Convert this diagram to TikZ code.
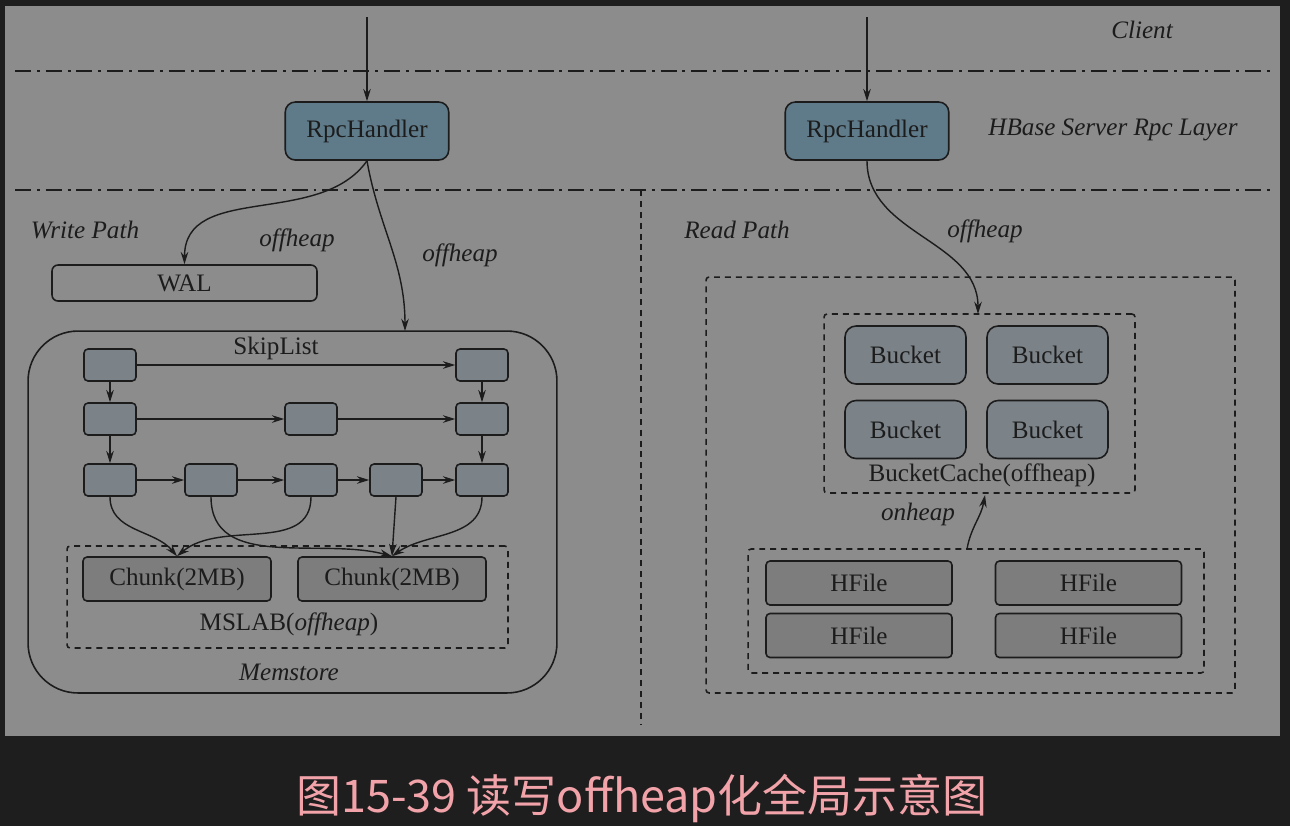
\documentclass[tikz,border=0pt]{standalone}
\usepackage{fontspec}
\setmainfont{Liberation Serif}
\newfontfamily\cjk{Noto Sans CJK SC}
\usepackage{tikz}
\usetikzlibrary{arrows.meta}
\definecolor{bgdark}{HTML}{1E1E1E}
\definecolor{panel}{HTML}{8C8C8C}
\definecolor{rpcblue}{HTML}{5F7B8A}
\definecolor{nodegray}{HTML}{7B8389}
\definecolor{filegray}{HTML}{7D7D7D}
\definecolor{edge}{HTML}{1C1C1C}
\definecolor{captionpink}{HTML}{F2A3AA}

\begin{document}
\begin{tikzpicture}[x=0.02cm,y=-0.02cm,
    every node/.style={font=\fontsize{14.3}{17}\selectfont, text=edge},
    lbl/.style={font=\fontsize{14.3}{17}\selectfont\itshape},
    box/.style={draw=edge, line width=0.9pt, inner sep=0pt},
    rpcbox/.style={box, fill=rpcblue, rounded corners=0.2cm, minimum width=3.27cm, minimum height=1.16cm},
    listnode/.style={box, fill=nodegray, rounded corners=0.08cm, minimum width=1.04cm, minimum height=0.64cm},
    chunkbox/.style={box, fill=filegray, rounded corners=0.08cm, minimum width=3.76cm, minimum height=0.88cm},
    bucketbox/.style={box, fill=nodegray, rounded corners=0.22cm, minimum width=2.42cm, minimum height=1.16cm},
    filebox/.style={box, fill=filegray, rounded corners=0.08cm, minimum width=3.72cm, minimum height=0.88cm},
    group/.style={box, rounded corners=0.06cm, dash pattern=on 3.4pt off 2.8pt},
    layer/.style={draw=edge, line width=0.9pt, dash pattern=on 9pt off 3.4pt on 1.7pt off 3.4pt},
    arr/.style={draw=edge, line width=0.8pt, -{Stealth[length=7pt,width=4.3pt]}}]
  \fill[bgdark] (0,0) rectangle (1290,826);
  \fill[panel] (5,6) rectangle (1280,736);
  \useasboundingbox (0,0) rectangle (1290,826);

  \draw[layer] (15,71) -- (1272,71);
  \draw[layer] (15,190) -- (1272,190);
  \draw[edge, line width=0.9pt, dash pattern=on 3.4pt off 2.8pt] (641,190) -- (641,725);

  \node[lbl] (client) at (1142,30) {Client};
  \node[lbl] (layername) at (1113,130) {HBase Server Rpc Layer};
  \node[rpcbox] (rpcw) at (367,131) {RpcHandler};
  \node[rpcbox] (rpcr) at (867,131) {RpcHandler};
  \coordinate (inw) at (367,17);
  \coordinate (inr) at (867,17);
  \draw[arr] (inw) -- (rpcw.north);
  \draw[arr] (inr) -- (rpcr.north);

  \node[lbl] (wpath) at (85,230) {Write Path};
  \node[box, fill=panel, rounded corners=0.12cm, minimum width=5.3cm, minimum height=0.72cm] (wal) at (184.5,283) {WAL};
  \node[box, rounded corners=1cm, minimum width=10.58cm, minimum height=7.24cm] (memstore) at (292.5,512) {};
  \node[lbl] (memname) at (289,672) {Memstore};
  \node (skiplist) at (276,348) {SkipList};
  \node[listnode] (s11) at (110,365) {};
  \node[listnode] (s15) at (482,365) {};
  \node[listnode] (s21) at (110,419) {};
  \node[listnode] (s23) at (311,419) {};
  \node[listnode] (s25) at (482,419) {};
  \node[listnode] (s31) at (110,480) {};
  \node[listnode] (s32) at (211,480) {};
  \node[listnode] (s33) at (311,480) {};
  \node[listnode] (s34) at (396,480) {};
  \node[listnode] (s35) at (482,480) {};
  \node[group, minimum width=8.82cm, minimum height=2.04cm] (mslab) at (287.5,597) {};
  \node[chunkbox] (chunka) at (177,579) {Chunk(2MB)};
  \node[chunkbox] (chunkb) at (392,579) {Chunk(2MB)};
  \node (mslabname) at (289,624) {MSLAB(\textit{offheap})};

  \coordinate (memtop) at (405,331);
  \draw[arr] (rpcw.south) to[out=-125,in=90] (wal.north);
  \draw[arr] (rpcw.south) to[out=-80,in=90] (memtop);
  \node[lbl] (offw) at (297,240) {offheap};
  \node[lbl] (offm) at (460,255) {offheap};

  \draw[arr] (s11) -- (s15);
  \draw[arr] (s21) -- (s23);
  \draw[arr] (s23) -- (s25);
  \draw[arr] (s31) -- (s32);
  \draw[arr] (s32) -- (s33);
  \draw[arr] (s33) -- (s34);
  \draw[arr] (s34) -- (s35);
  \draw[arr] (s11) -- (s21);
  \draw[arr] (s21) -- (s31);
  \draw[arr] (s15) -- (s25);
  \draw[arr] (s25) -- (s35);
  \draw[arr] (s31.south) to[out=-90,in=130] (chunka.north);
  \draw[arr] (s33.south) to[out=-90,in=40] (chunka.north);
  \draw[arr] (s32.south) to[out=-90,in=165] (chunkb.north);
  \draw[arr] (s34.south) -- (chunkb.north);
  \draw[arr] (s35.south) to[out=-90,in=35] (chunkb.north);

  \node[lbl] (rpath) at (737,230) {Read Path};
  \node[group, minimum width=10.58cm, minimum height=8.32cm] (readbox) at (970.5,485) {};
  \node[group, minimum width=6.22cm, minimum height=3.58cm] (bcache) at (979.5,403.5) {};
  \node[bucketbox] (bucketa) at (905.5,355) {Bucket};
  \node[bucketbox] (bucketb) at (1047.5,355) {Bucket};
  \node[bucketbox] (bucketc) at (905.5,429.5) {Bucket};
  \node[bucketbox] (bucketd) at (1047.5,429.5) {Bucket};
  \node (bcname) at (982,475) {BucketCache(offheap)};
  \node[group, minimum width=9.12cm, minimum height=2.48cm] (hfiles) at (976,611) {};
  \node[filebox] (hfa) at (859,583) {HFile};
  \node[filebox] (hfb) at (1088.5,583) {HFile};
  \node[filebox] (hfc) at (859,635.5) {HFile};
  \node[filebox] (hfd) at (1088.5,635.5) {HFile};

  \coordinate (bctop) at (978,314);
  \coordinate (bcbottom) at (985,495);
  \coordinate (hftop) at (967,549);
  \draw[arr] (rpcr.south) to[out=-90,in=90] (bctop);
  \draw[arr] (hftop) to[out=80,in=-100] (bcbottom);
  \node[lbl] (offr) at (985,231) {offheap};
  \node[lbl] (onheap) at (918,514) {onheap};

  \node[font=\cjk\fontsize{25.6}{30}\selectfont, text=captionpink] (caption) at (642,798) {图15-39 读写offheap化全局示意图};
\end{tikzpicture}
\end{document}
